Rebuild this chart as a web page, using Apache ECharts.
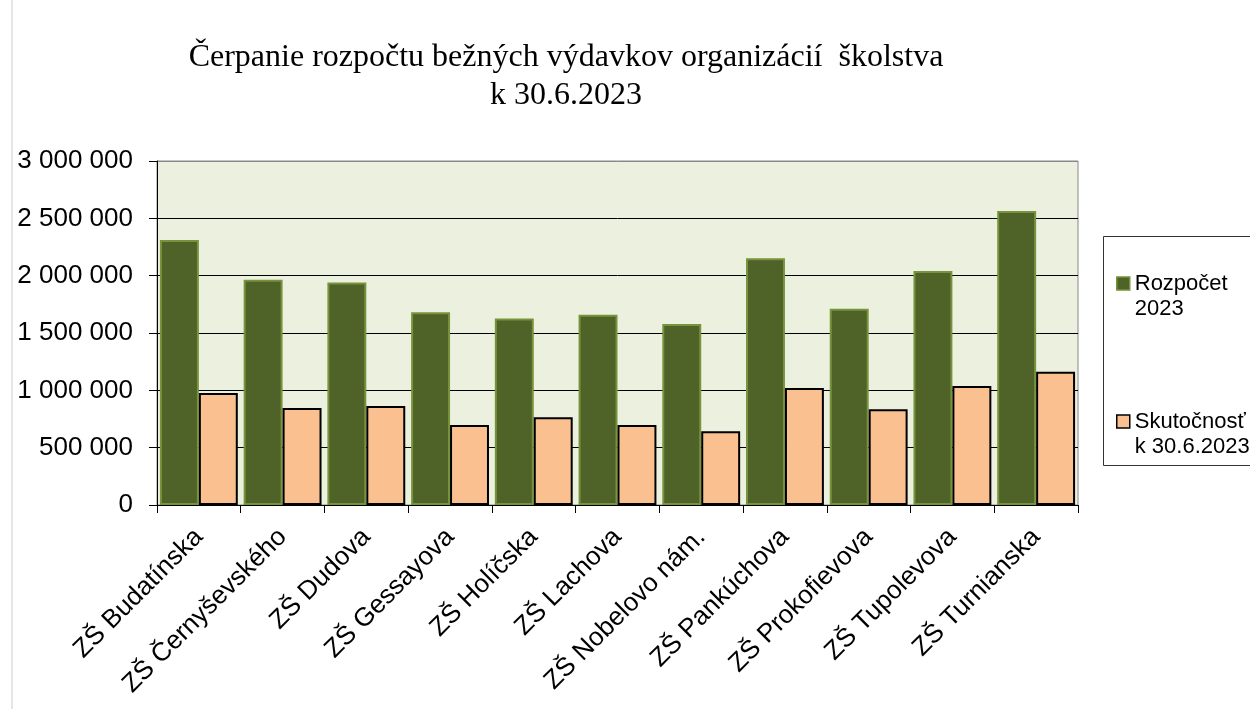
<!DOCTYPE html>
<html>
<head>
<meta charset="utf-8">
<script src="https://cdn.jsdelivr.net/npm/echarts@6/dist/echarts.min.js"></script>
<style>
html, body { margin: 0; padding: 0; background: #fff; }
#chart { width: 1250px; height: 709px; }
</style>
</head>
<body>
<div id="chart"></div>
<script>
var schools = ['ZŠ Budatínska', 'ZŠ Černyševského', 'ZŠ Dudova', 'ZŠ Gessayova', 'ZŠ Holíčska',
    'ZŠ Lachova', 'ZŠ Nobelovo nám.', 'ZŠ Pankúchova', 'ZŠ Prokofievova', 'ZŠ Tupolevova', 'ZŠ Turnianska'];
var budget2023 = [2310000, 1965000, 1940000, 1680000, 1627000, 1660000, 1578000, 2152000, 1712000, 2041000, 2565000];
var actual2023 = [976000, 845000, 864000, 697000, 766000, 697000, 643000, 1020000, 836000, 1038000, 1161000];
var seriesNames = ['Rozpočet 2023', 'Skutočnosť k 30.6.2023'];

var chart = echarts.init(document.getElementById('chart'));

function spaced(v) {
    return String(v).replace(/\B(?=(\d{3})+(?!\d))/g, ' ');
}

var option = {
    animation: false,
    backgroundColor: '#fff',
    textStyle: { fontFamily: 'Liberation Sans' },
    graphic: [
        {   // slide edge
            type: 'line', shape: { x1: 12, y1: 0, x2: 12, y2: 709 },
            style: { stroke: '#cccccc', lineWidth: 1 }, silent: true
        },
        {
            type: 'text', x: 566, y: 39,
            style: {
                text: 'Čerpanie rozpočtu bežných výdavkov organizácií  školstva\nk 30.6.2023',
                font: '32px "Liberation Serif"', fill: '#000',
                textAlign: 'center', lineHeight: 38
            }
        },
        {   // legend frame
            type: 'rect', shape: { x: 1103.5, y: 236.5, width: 160, height: 229 },
            style: { fill: '#fff', stroke: '#333', lineWidth: 1 }, z: -1
        }
    ],
    legend: {
        orient: 'vertical',
        left: 1111,
        top: 241,
        itemWidth: 13,
        itemHeight: 13,
        itemGap: 63,
        itemStyle: { borderWidth: 1.5 },
        icon: 'rect',
        data: seriesNames,
        // blank first line keeps the marker level with the first text line
        formatter: function (name) { return '\n' + name.replace(' ', '\n'); },
        textStyle: { fontSize: 22, color: '#000', lineHeight: 25 }
    },
    grid: {
        left: 157, right: 172, top: 161, bottom: 204,
        show: true, backgroundColor: '#ebf1de', borderColor: '#888', borderWidth: 1
    },
    xAxis: {
        type: 'category',
        data: schools,
        axisLine: { lineStyle: { color: '#000', width: 1 } },
        axisTick: { show: true, length: 8, lineStyle: { color: '#000' } },
        axisLabel: { rotate: 45, fontSize: 26, color: '#000', margin: 28, interval: 0 }
    },
    yAxis: {
        type: 'value',
        min: 0, max: 3000000, interval: 500000,
        axisLine: { show: true, lineStyle: { color: '#000', width: 1 } },
        axisTick: { show: true, length: 8, lineStyle: { color: '#000' } },
        axisLabel: { fontSize: 26, color: '#000', margin: 24, formatter: spaced },
        splitLine: { lineStyle: { color: ['#000', '#000', '#000', '#000', '#000', '#000', '#888'], width: 1 } }
    },
    series: [
        {
            name: seriesNames[0], type: 'bar', data: budget2023,
            barGap: '0%', barCategoryGap: '7%',
            itemStyle: { color: '#4f6228', borderColor: '#77933c', borderWidth: 2 }
        },
        {
            name: seriesNames[1], type: 'bar', data: actual2023,
            itemStyle: { color: '#fac090', borderColor: '#000', borderWidth: 2 }
        }
    ]
};

chart.setOption(option);
window.addEventListener('resize', chart.resize);
</script>
</body>
</html>
